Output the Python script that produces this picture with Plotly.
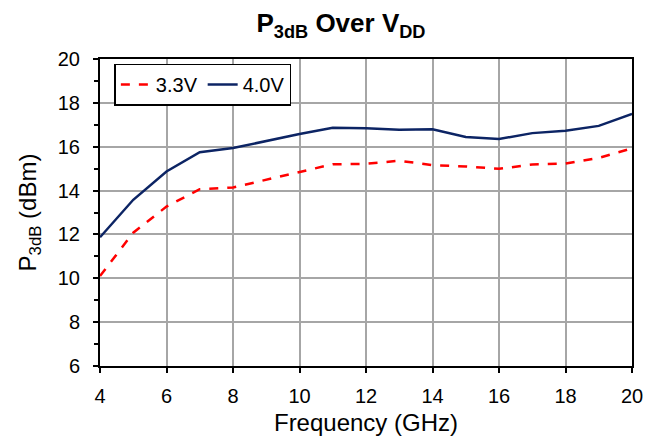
import plotly.graph_objects as go

freq = [4, 5, 6, 7, 8, 9, 10, 11, 12, 13, 14, 15, 16, 17, 18, 19, 20]
p_33 = [10.1, 12.08, 13.27, 14.06, 14.14, 14.49, 14.84, 15.2, 15.22, 15.36, 15.16, 15.1, 14.99, 15.19, 15.23, 15.49, 15.93]
p_40 = [11.87, 13.58, 14.87, 15.75, 15.94, 16.27, 16.58, 16.86, 16.84, 16.77, 16.8, 16.44, 16.35, 16.62, 16.73, 16.95, 17.5]

FONT = "Liberation Sans, Arial, sans-serif"

fig = go.Figure()
fig.add_trace(go.Scatter(x=freq, y=p_33, mode="lines", name="3.3V",
                         line=dict(color="#ff0000", width=2.5, dash="dash")))
fig.add_trace(go.Scatter(x=freq, y=p_40, mode="lines", name="4.0V",
                         line=dict(color="#0c2464", width=2.5)))

fig.update_layout(
    width=659, height=438,
    margin=dict(l=100, r=27, t=59, b=72),
    paper_bgcolor="white", plot_bgcolor="white",
    font=dict(family=FONT, size=20, color="black"),
    title=dict(text="<b>P<sub>3dB</sub> Over V<sub>DD</sub></b>",
               x=341/659, xanchor="center", y=1 - 23/438, yanchor="middle",
               font=dict(family=FONT, size=26, color="black")),
    showlegend=True,
    legend=dict(orientation="h", x=0.027, y=0.985, xanchor="left", yanchor="top",
                bgcolor="white", bordercolor="black", borderwidth=1.5,
                font=dict(family=FONT, size=20), itemwidth=30,
                tracegroupgap=0),
    xaxis=dict(range=[4, 20], tickvals=[4, 6, 8, 10, 12, 14, 16, 18, 20],
               showgrid=True, gridcolor="#a6a6a6", gridwidth=1.5,
               showline=True, linecolor="black", linewidth=2, mirror=True,
               ticks="outside", ticklen=5, tickwidth=1.5, tickcolor="black",
               ticklabelstandoff=6, automargin=False,
               title=dict(text="Frequency (GHz)", standoff=8),
               zeroline=False),
    yaxis=dict(range=[6, 20], tickvals=[6, 8, 10, 12, 14, 16, 18, 20],
               showgrid=True, gridcolor="#a6a6a6", gridwidth=1.5,
               showline=True, linecolor="black", linewidth=2, mirror=True,
               ticks="outside", ticklen=5, tickwidth=1.5, tickcolor="black",
               ticklabelstandoff=9, automargin=False,
               minor=dict(tickvals=[7, 9, 11, 13, 15, 17, 19], ticks="outside",
                          ticklen=4, tickwidth=1.5, tickcolor="black", showgrid=False),
               title=dict(text="P<sub>3dB</sub> (dBm)", standoff=14),
               zeroline=False),
)

fig.write_html("out.html")
